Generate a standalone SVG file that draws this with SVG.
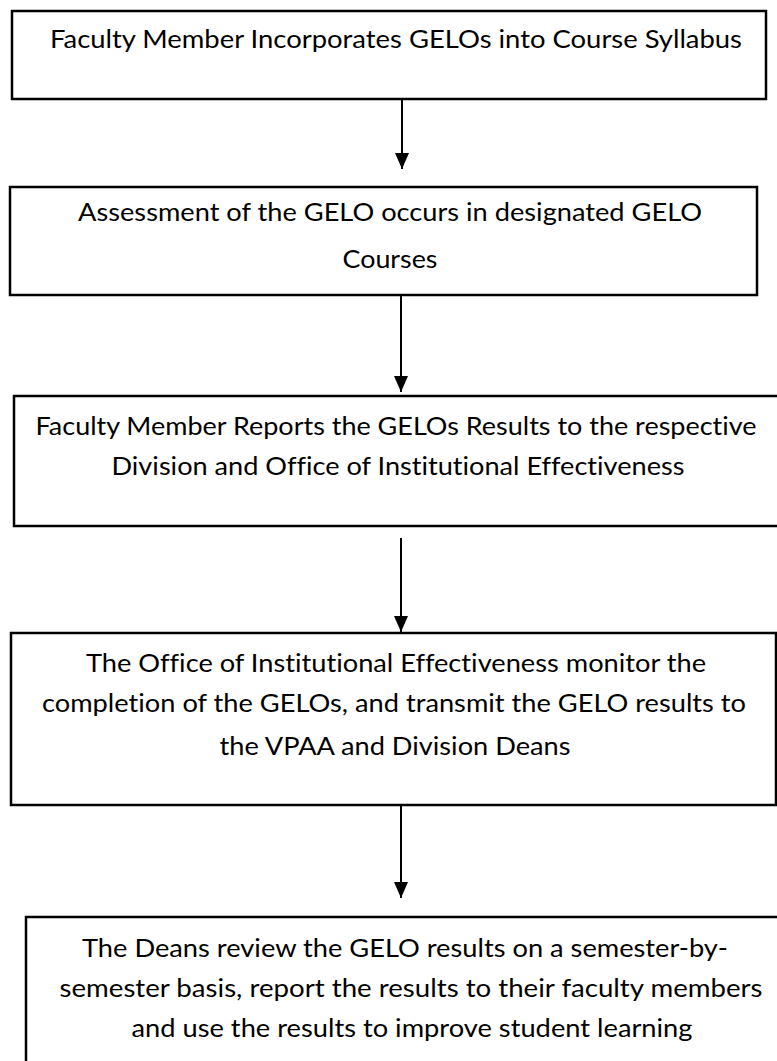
<svg xmlns="http://www.w3.org/2000/svg" width="777" height="1061" viewBox="0 0 777 1061">
<style>
.box{fill:#fff;stroke:#000;stroke-width:2.5}
.lbl{font-family:Lato,"Liberation Sans",sans-serif;font-size:25px;fill:#000;text-anchor:middle;font-variant-ligatures:none}
.conn{stroke:#000;stroke-width:2;fill:none}
</style>
<defs>
<marker id="ah" markerUnits="userSpaceOnUse" markerWidth="16" markerHeight="14" refX="16" refY="7" orient="auto" viewBox="0 0 16 14">
<path d="M0,0 L16,7 L0,14 Z" fill="#000"/>
</marker>
</defs>
<rect width="777" height="1061" fill="#fff"/>
<g id="connectors">
<line class="conn" x1="402" y1="99" x2="402" y2="169" marker-end="url(#ah)"/>
<line class="conn" x1="401" y1="295" x2="401" y2="392" marker-end="url(#ah)"/>
<line class="conn" x1="401" y1="538" x2="401" y2="632" marker-end="url(#ah)"/>
<line class="conn" x1="401" y1="805" x2="401" y2="898" marker-end="url(#ah)"/>
</g>
<g id="node1">
<rect class="box" x="12" y="11" width="754" height="88"/>
<text class="lbl" x="396" y="48" textLength="692" lengthAdjust="spacingAndGlyphs">Faculty Member Incorporates GELOs into Course Syllabus</text>
</g>
<g id="node2">
<rect class="box" x="10" y="187" width="747" height="108"/>
<text class="lbl" x="390" y="221" textLength="624" lengthAdjust="spacingAndGlyphs">Assessment of the GELO occurs in designated GELO</text>
<text class="lbl" x="390" y="268" textLength="95" lengthAdjust="spacingAndGlyphs">Courses</text>
</g>
<g id="node3">
<rect class="box" x="14" y="396" width="780" height="130"/>
<text class="lbl" x="396" y="435" textLength="721" lengthAdjust="spacingAndGlyphs">Faculty Member Reports the GELOs Results to the respective</text>
<text class="lbl" x="398" y="475" textLength="573" lengthAdjust="spacingAndGlyphs">Division and Office of Institutional Effectiveness</text>
</g>
<g id="node4">
<rect class="box" x="11" y="633" width="765" height="172"/>
<text class="lbl" x="396" y="672" textLength="620" lengthAdjust="spacingAndGlyphs">The Office of Institutional Effectiveness monitor the</text>
<text class="lbl" x="394" y="712" textLength="704" lengthAdjust="spacingAndGlyphs">completion of the GELOs, and transmit the GELO results to</text>
<text class="lbl" x="395" y="755" textLength="351" lengthAdjust="spacingAndGlyphs">the VPAA and Division Deans</text>
</g>
<g id="node5">
<rect class="box" x="26" y="917" width="780" height="160"/>
<text class="lbl" x="405" y="957" textLength="646" lengthAdjust="spacingAndGlyphs">The Deans review the GELO results on a semester-by-</text>
<text class="lbl" x="411" y="997" textLength="703" lengthAdjust="spacingAndGlyphs">semester basis, report the results to their faculty members</text>
<text class="lbl" x="412" y="1037" textLength="561" lengthAdjust="spacingAndGlyphs">and use the results to improve student learning</text>
</g>
</svg>
